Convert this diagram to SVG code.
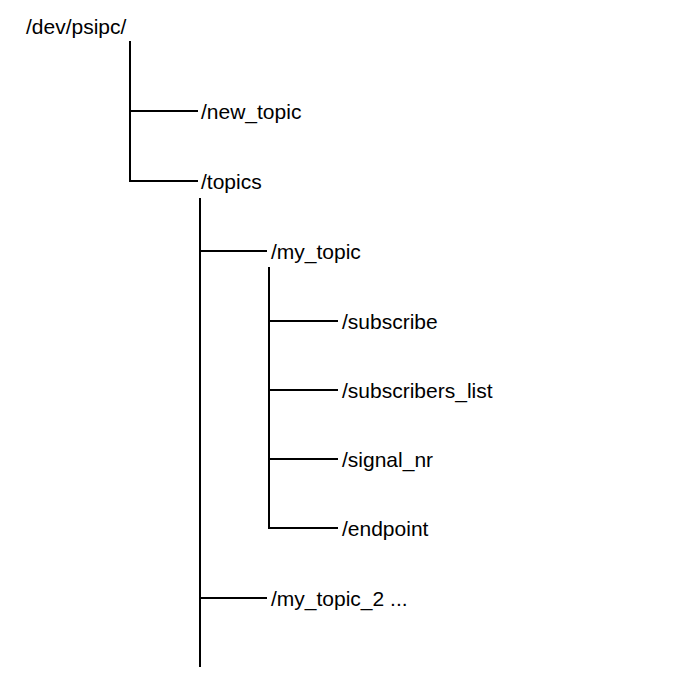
<svg xmlns="http://www.w3.org/2000/svg" width="686" height="687" viewBox="0 0 686 687">
<style>
  text { font-family: "Liberation Sans", Arial, sans-serif; font-size: 21px; fill: #000; }
  .c line { stroke: #000; stroke-width: 2; }
</style>
<rect width="686" height="687" fill="#fff"/>
<g id="connectors" class="c">
  <line x1="130" y1="41" x2="130" y2="182"/>
  <line x1="130" y1="111" x2="198" y2="111"/>
  <line x1="130" y1="181" x2="198" y2="181"/>
  <line x1="200" y1="198" x2="200" y2="667"/>
  <line x1="200" y1="251" x2="267" y2="251"/>
  <line x1="200" y1="598" x2="267" y2="598"/>
  <line x1="269" y1="267" x2="269" y2="529"/>
  <line x1="269" y1="321" x2="338" y2="321"/>
  <line x1="269" y1="390" x2="338" y2="390"/>
  <line x1="269" y1="459" x2="338" y2="459"/>
  <line x1="269" y1="528" x2="338" y2="528"/>
</g>
<g id="root"><text x="26" y="34">/dev/psipc/</text></g>
<g id="new_topic"><text x="201" y="119">/new_topic</text></g>
<g id="topics"><text x="201" y="189">/topics</text></g>
<g id="my_topic"><text x="271" y="259">/my_topic</text></g>
<g id="subscribe"><text x="342" y="329">/subscribe</text></g>
<g id="subscribers_list"><text x="342" y="398">/subscribers_list</text></g>
<g id="signal_nr"><text x="342" y="467">/signal_nr</text></g>
<g id="endpoint"><text x="342" y="536">/endpoint</text></g>
<g id="my_topic_2"><text x="271" y="606">/my_topic_2 ...</text></g>
</svg>
